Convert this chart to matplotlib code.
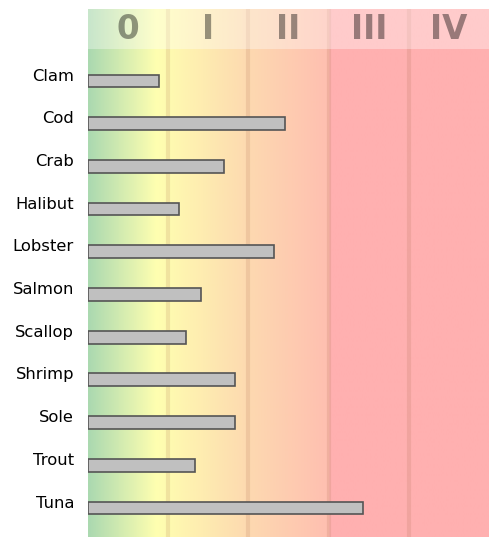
import numpy as np
import matplotlib.pyplot as plt
from matplotlib.colors import LinearSegmentedColormap

# Data
species = ["Clam", "Cod", "Crab", "Halibut", "Lobster", "Salmon",
           "Scallop", "Shrimp", "Sole", "Trout", "Tuna"]
values = [0.88, 2.46, 1.70, 1.14, 2.32, 1.41, 1.22, 1.83, 1.83, 1.33, 3.43]
classes = ["0", "I", "II", "III", "IV"]

# Background colour ramp (position along x, colour)
ramp_pos = [0.0, 0.17, 0.40, 0.60, 0.605, 1.0]
ramp_col = ["#abd9b0", "#ffffb0", "#fdd9b0", "#ffbfb0", "#ffb0b0", "#ffb0b0"]

fig = plt.figure(figsize=(4.96, 5.37), dpi=100)
ax = fig.add_axes([88 / 496, 0, 401 / 496, 528 / 537])

n_cls = len(classes)
y_top, y_bot = -1.534, 10.83

# Gradient background
cmap = LinearSegmentedColormap.from_list("risk", list(zip(ramp_pos, ramp_col)))
grad = np.linspace(0, 1, 500).reshape(1, -1)
ax.imshow(grad, cmap=cmap, aspect="auto", extent=(0, n_cls, y_bot, y_top),
          zorder=0, interpolation="bilinear")

# Class boundaries
for i in range(1, n_cls):
    ax.axvline(i, color="#a06040", alpha=0.15, linewidth=3, zorder=1)

# Header band with class names
ax.axhspan(y_top, -0.595, color="white", alpha=0.35, linewidth=0, zorder=2)
for i, c in enumerate(classes):
    ax.text(i + 0.5, (y_top - 0.595) / 2, c, ha="center", va="center",
            fontsize=23.5, fontweight="bold", color="black", alpha=0.4, zorder=3)

# Bars
y = np.arange(len(species))
ax.barh(y, values, height=0.3, align="edge", color="#c0c0c0",
        edgecolor="#555555", linewidth=1.2, zorder=4)

ax.set_xlim(0, n_cls)
ax.set_ylim(y_bot, y_top)
ax.set_yticks(y)
ax.set_yticklabels(species, fontsize=11.8)
ax.tick_params(axis="y", length=0, pad=10)
ax.set_xticks([])
for s in ax.spines.values():
    s.set_visible(False)

fig.savefig("out.png", dpi=100)
